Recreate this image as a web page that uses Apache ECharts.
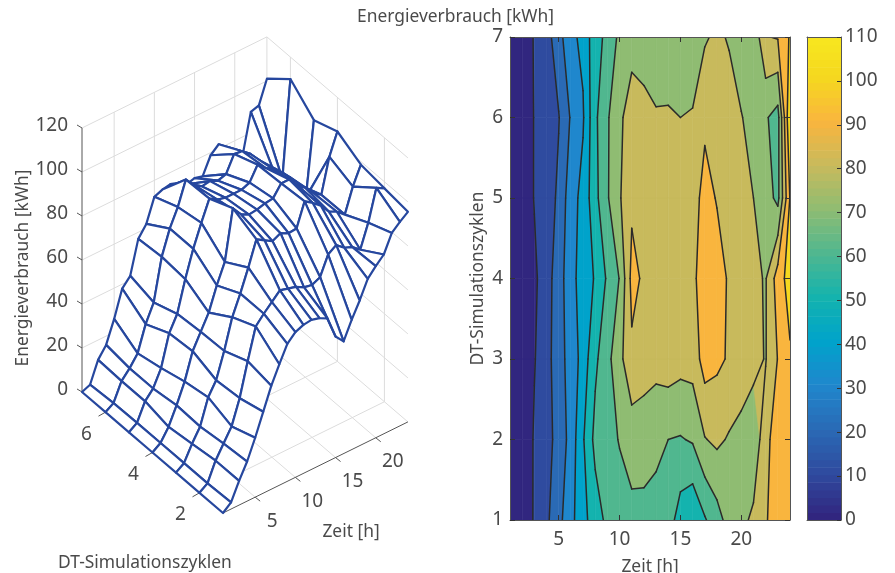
<!DOCTYPE html>
<html><head><meta charset="utf-8">
<style>html,body{margin:0;padding:0;background:#fff}#c{width:895px;height:573px}</style>
<script src="https://cdn.jsdelivr.net/npm/echarts@6/dist/echarts.min.js"></script>
</head><body><div id="c"></div>
<script>
// ---- data ----
const zeit = [1,2,3,4,5,6,7,8,9,10,11,12,13,14,15,16,17,18,19,20,21,22,23,24];
const zyklen = [1,2,3,4,5,6,7];
const zyklus1 = [0,3,11,18,27,37,47,55,62.5,66,67.5,68,67,65,55,51,59,66,74,78,81.5,89.5,92.7,95.5];
const zyklus2 = [0,2.5,11,17,23,34,49,63,67,70.5,74,73,72,70,69.3,71,79.5,82,79,77.5,74.5,85,99,97];
const zyklus3 = [0,2.5,9.5,15.5,27,33,44.5,58,67,77,88,85.8,83.6,85.4,83.6,84,94.5,92,89,84.5,82.6,79.5,90.4,98.6];
const zyklus4 = [0,2.5,8,16,25,37,44,51,61.5,70.4,93,88.4,86.5,87,88,88.5,93.5,93.5,89,86,82,79.3,94.8,104.5];
const zyklus5 = [0,2.5,10.5,14.5,22,36,43,57,69,79,88.2,86,85,85,85,86.5,92.8,89.5,87,84,80,75,67.2,100.5];
const zyklus6 = [0,2.3,10.5,14.5,19.5,31,39,58,69,77,87.7,83.5,81,81.6,80,81.2,88.5,88,85,80.5,76,71,66.3,110];
const zyklus7 = [0,1.5,11,16,26,38,42,57,62,72.5,74,74.7,73.5,71,72,71,78.8,82,79,74,72,89.5,90.7,101];
const zMatrix = [zyklus1,zyklus2,zyklus3,zyklus4,zyklus5,zyklus6,zyklus7];
const levels = [10,20,30,40,50,60,70,80,90,100];
const bandLows = [0,10,20,30,40,50,60,70,80,90,100];
const zTicks = [0,20,40,60,80,100,120];
const tTicks = [5,10,15,20];
const cTicks = [2,4,6];
const stopValues = [0,10,20,30,40,50,60,70,80,90,100,110];
const stopColors = ['#31267f','#2f4b9f','#2a6ab5','#1f87cd','#00a3cb','#14b3ae','#50b78f','#8fbc72','#c8ba5c','#f9b53e','#f5d81f','#f7e81f'];
const txt = '#4a4a4a', meshBlue = '#26479e', gridGrey = '#dcdcdc', axisGrey = '#555555';
const FONT = '"Noto Sans"';
const LABEL = 17.4, TICK = 19;

// ---- helpers ----
function hex(c){return [1,3,5].map(i=>parseInt(c.substr(i,2),16));}
function colorAt(v){
  let i=Math.min(Math.floor(v/10),stopColors.length-2), f=(v-stopValues[i])/10;
  const a=hex(stopColors[i]), b=hex(stopColors[i+1]);
  return 'rgb('+a.map((x,k)=>Math.round(x+(b[k]-x)*f)).join(',')+')';
}
function project(t,c,z){return [223+8.04*(t-1)-23.5*(c-1), 513-3.96*(t-1)-20.17*(c-1)-2.2*z];}
const tMin=zeit[0], tMax=zeit[zeit.length-1], cMin=zyklen[0], cMax=zyklen[zyklen.length-1], zMax=zTicks[zTicks.length-1];

const boxLines=[];
zTicks.forEach(z=>{boxLines.push([tMin,cMax,z,tMax,cMax,z],[tMax,cMax,z,tMax,cMin,z]);});
tTicks.forEach(t=>{boxLines.push([t,cMin,0,t,cMax,0],[t,cMax,0,t,cMax,zMax]);});
cTicks.forEach(c=>{boxLines.push([tMin,c,0,tMax,c,0],[tMax,c,0,tMax,c,zMax]);});
boxLines.push([tMax,cMax,0,tMax,cMax,zMax]);
const axisLines=[[tMin,cMax,0,tMin,cMax,zMax],[tMin,cMax,0,tMin,cMin,0],[tMin,cMin,0,tMax,cMin,0]];

const meshCells=[];
for(let i=zeit.length-2;i>=0;i--)for(let j=zyklen.length-2;j>=0;j--)meshCells.push([i,j]);
const contourCells=[];
for(let i=0;i<zeit.length-1;i++)for(let j=0;j<zyklen.length-1;j++)contourCells.push([i,j]);

function cellPoly(i,j){
  return [[i,j],[i+1,j],[i+1,j+1],[i,j+1]].map(p=>({t:zeit[p[0]],c:zyklen[p[1]],z:zMatrix[p[1]][p[0]]}));
}
function clip(poly,L,keepAbove){
  const out=[];
  const inside=p=>keepAbove?p.z>=L:p.z<=L;
  poly.forEach((a,k)=>{
    const b=poly[(k+1)%poly.length];
    const ia=inside(a), ib=inside(b);
    if(ia)out.push(a);
    if(ia!==ib){const f=(L-a.z)/(b.z-a.z);out.push({t:a.t+(b.t-a.t)*f,c:a.c+(b.c-a.c)*f,z:L});}
  });
  return out;
}
const lineAxis={show:true,onZero:false,lineStyle:{color:axisGrey}};
const tickIn={show:true,inside:true,length:5,lineStyle:{color:'#333'}};

const option={
  animation:false,
  textStyle:{fontFamily:FONT},
  title:{text:'Energieverbrauch [kWh]',left:357,top:9,textStyle:{fontFamily:FONT,fontSize:LABEL,fontWeight:'normal',color:txt},padding:0},
  grid:[
    {left:0,top:0,width:895,height:573,outerBoundsMode:'none'},
    {left:510,top:37,width:280,height:483,outerBoundsMode:'none'},
    {left:807,top:37,width:34,height:483,outerBoundsMode:'none'}
  ],
  xAxis:[
    {gridIndex:0,type:'value',min:0,max:895,show:false},
    {gridIndex:1,type:'value',min:1,max:24,z:10,position:'bottom',
      name:'Zeit [h]',nameLocation:'middle',nameGap:39,nameTextStyle:{fontFamily:FONT,fontSize:LABEL,color:txt},
      axisLine:lineAxis,splitLine:{show:false},
      axisTick:Object.assign({customValues:tTicks},tickIn),
      axisLabel:{customValues:tTicks,margin:10,fontFamily:FONT,fontSize:TICK,color:txt}},
    {gridIndex:1,type:'value',min:1,max:24,z:10,position:'top',
      axisLine:lineAxis,splitLine:{show:false},
      axisTick:Object.assign({customValues:tTicks},tickIn),
      axisLabel:{show:false}},
    {gridIndex:2,type:'value',min:0,max:1,z:10,position:'bottom',
      axisLine:lineAxis,splitLine:{show:false},axisTick:{show:false},axisLabel:{show:false}},
    {gridIndex:2,type:'value',min:0,max:1,z:10,position:'top',
      axisLine:lineAxis,splitLine:{show:false},axisTick:{show:false},axisLabel:{show:false}}
  ],
  yAxis:[
    {gridIndex:0,type:'value',min:0,max:573,inverse:true,show:false},
    {gridIndex:1,type:'value',min:1,max:7,interval:1,z:10,position:'left',
      name:'DT-Simulationszyklen',nameLocation:'middle',nameGap:23,nameRotate:90,nameTextStyle:{fontFamily:FONT,fontSize:LABEL,color:txt},
      axisLine:lineAxis,splitLine:{show:false},
      axisTick:tickIn,
      axisLabel:{margin:7,fontFamily:FONT,fontSize:TICK,color:txt,padding:[3,0,0,0]}},
    {gridIndex:1,type:'value',min:1,max:7,interval:1,z:10,position:'right',
      axisLine:lineAxis,splitLine:{show:false},
      axisTick:tickIn,axisLabel:{show:false}},
    {gridIndex:2,type:'value',min:0,max:110,interval:10,z:10,position:'right',
      axisLine:lineAxis,splitLine:{show:false},
      axisTick:{show:true,inside:true,length:4,lineStyle:{color:'#333'}},
      axisLabel:{margin:4,fontFamily:FONT,fontSize:TICK,color:txt,padding:[3,0,0,0]}},
    {gridIndex:2,type:'value',min:0,max:110,interval:10,z:10,position:'left',
      axisLine:lineAxis,splitLine:{show:false},axisTick:{show:false},axisLabel:{show:false}}
  ],
  graphic:[
    {type:'text',z:20,x:23,y:268,rotation:Math.PI/2,style:{text:'Energieverbrauch [kWh]',fontFamily:FONT,fontSize:LABEL,fill:txt,align:'center',verticalAlign:'middle'}},
    {type:'text',z:20,x:58,y:563,style:{text:'DT-Simulationszyklen',fontFamily:FONT,fontSize:LABEL,fill:txt,align:'left',verticalAlign:'middle'}},
    {type:'text',z:20,x:351,y:532,style:{text:'Zeit [h]',fontFamily:FONT,fontSize:LABEL,fill:txt,align:'center',verticalAlign:'middle'}},
    {type:'rect',z:30,shape:{x:878,y:0,width:17,height:573},style:{fill:'#fff'}}
  ],
  series:[
    {type:'custom',xAxisIndex:0,yAxisIndex:0,silent:true,z:1,data:boxLines,clip:false,
     renderItem:(p,api)=>{
       const a=api.coord(project(api.value(0),api.value(1),api.value(2))), b=api.coord(project(api.value(3),api.value(4),api.value(5)));
       return {type:'line',shape:{x1:a[0],y1:a[1],x2:b[0],y2:b[1]},style:{stroke:gridGrey,lineWidth:1}};
     }},
    {type:'custom',xAxisIndex:0,yAxisIndex:0,silent:true,z:2,data:axisLines,clip:false,
     renderItem:(p,api)=>{
       const a=api.coord(project(api.value(0),api.value(1),api.value(2))), b=api.coord(project(api.value(3),api.value(4),api.value(5)));
       return {type:'line',shape:{x1:a[0],y1:a[1],x2:b[0],y2:b[1]},style:{stroke:axisGrey,lineWidth:1}};
     }},
    {type:'custom',xAxisIndex:0,yAxisIndex:0,silent:true,z:2,data:zTicks.map(z=>[z]),clip:false,
     renderItem:(p,api)=>{
       const z=api.value(0), a=api.coord(project(tMin,cMax,z));
       return {type:'group',children:[
         {type:'line',shape:{x1:a[0],y1:a[1],x2:a[0]-5,y2:a[1]-3},style:{stroke:axisGrey,lineWidth:1}},
         {type:'text',x:a[0]-14,y:a[1]-2,style:{text:String(z),fontFamily:FONT,fontSize:TICK,fill:txt,align:'right',verticalAlign:'middle'}}
       ]};
     }},
    {type:'custom',xAxisIndex:0,yAxisIndex:0,silent:true,z:2,data:tTicks.map(t=>[t]),clip:false,
     renderItem:(p,api)=>{
       const t=api.value(0), a=api.coord(project(t,cMin,0));
       return {type:'group',children:[
         {type:'line',shape:{x1:a[0],y1:a[1],x2:a[0]+5,y2:a[1]+4},style:{stroke:axisGrey,lineWidth:1}},
         {type:'text',x:a[0]+17,y:a[1]+24,style:{text:String(t),fontFamily:FONT,fontSize:TICK,fill:txt,align:'center',verticalAlign:'middle'}}
       ]};
     }},
    {type:'custom',xAxisIndex:0,yAxisIndex:0,silent:true,z:2,data:cTicks.map(c=>[c]),clip:false,
     renderItem:(p,api)=>{
       const c=api.value(0), a=api.coord(project(tMin,c,0));
       return {type:'group',children:[
         {type:'line',shape:{x1:a[0],y1:a[1],x2:a[0]-7,y2:a[1]+4},style:{stroke:axisGrey,lineWidth:1}},
         {type:'text',x:a[0]-19,y:a[1]+22,style:{text:String(c),fontFamily:FONT,fontSize:TICK,fill:txt,align:'center',verticalAlign:'middle'}}
       ]};
     }},
    {type:'custom',xAxisIndex:0,yAxisIndex:0,silent:true,z:3,data:meshCells,clip:false,
     renderItem:(p,api)=>{
       const pts=cellPoly(api.value(0),api.value(1)).map(q=>api.coord(project(q.t,q.c,q.z)));
       return {type:'polygon',shape:{points:pts},style:{fill:'#fff',stroke:meshBlue,lineWidth:2.2,lineJoin:'round'}};
     }},
    {type:'custom',xAxisIndex:1,yAxisIndex:1,silent:true,z:3,data:contourCells,clip:true,
     renderItem:(p,api)=>{
       const base=cellPoly(api.value(0),api.value(1)), kids=[];
       bandLows.forEach(lo=>{
         let g=clip(base,lo,true); if(g.length>2)g=clip(g,lo+10,false);
         if(g.length>2){const c=colorAt(lo);
           kids.push({type:'polygon',shape:{points:g.map(q=>api.coord([q.t,q.c]))},style:{fill:c,stroke:c,lineWidth:0.6}});}
       });
       return {type:'group',children:kids};
     }},
    {type:'custom',xAxisIndex:1,yAxisIndex:1,silent:true,z:4,data:contourCells,clip:true,
     renderItem:(p,api)=>{
       const base=cellPoly(api.value(0),api.value(1)), kids=[];
       levels.forEach(L=>{
         const xs=[];
         base.forEach((a,k)=>{const b=base[(k+1)%4];
           if((a.z<L)!==(b.z<L)){const f=(L-a.z)/(b.z-a.z);xs.push(api.coord([a.t+(b.t-a.t)*f,a.c+(b.c-a.c)*f]));}});
         for(let k=0;k+1<xs.length;k+=2)kids.push({type:'line',shape:{x1:xs[k][0],y1:xs[k][1],x2:xs[k+1][0],y2:xs[k+1][1]},style:{stroke:'#2a2a2a',lineWidth:1.5,lineCap:'round'}});
       });
       return {type:'group',children:kids};
     }},
    {type:'custom',xAxisIndex:3,yAxisIndex:3,silent:true,z:3,clip:true,
     data:Array.from({length:64},(_,i)=>[i]),
     renderItem:(p,api)=>{
       const i=api.value(0), v0=i*110/64, v1=(i+1)*110/64;
       const a=api.coord([0,v0]), b=api.coord([1,v1]);
       return {type:'rect',shape:{x:a[0],y:b[1],width:b[0]-a[0],height:a[1]-b[1]+0.6},style:{fill:colorAt(v0)}};
     }}
  ]
};
const chart=echarts.init(document.getElementById('c'),null,{renderer:'canvas'});
chart.setOption(option);
</script></body></html>
